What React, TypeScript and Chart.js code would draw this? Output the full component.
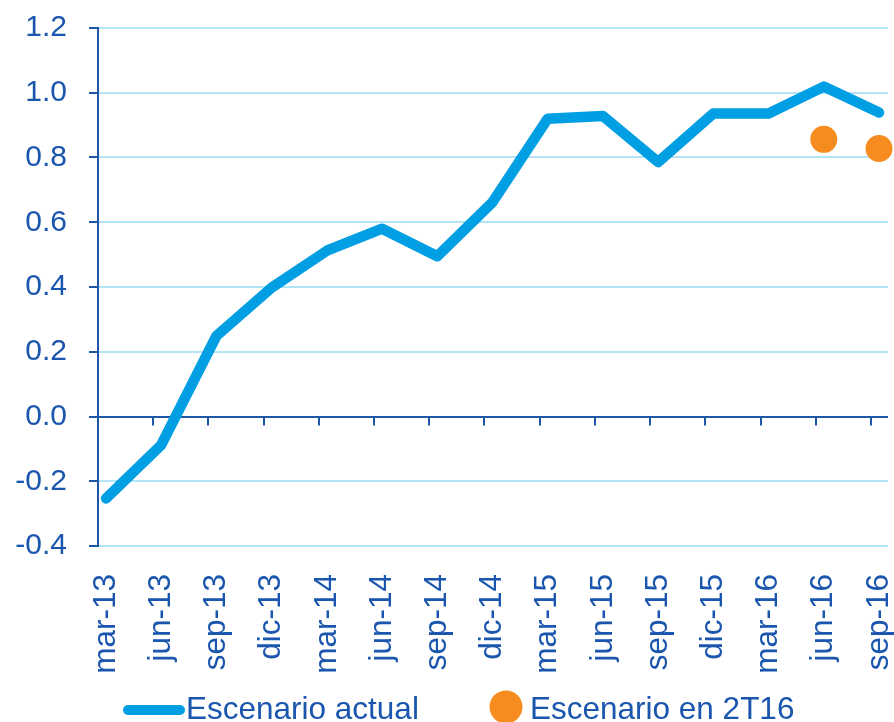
import React, { useEffect, useRef } from "react";
import { Chart, registerables } from "chart.js";

Chart.register(...registerables);

const categories: string[] = [
  "mar-13", "jun-13", "sep-13", "dic-13", "mar-14", "jun-14", "sep-14", "dic-14",
  "mar-15", "jun-15", "sep-15", "dic-15", "mar-16", "jun-16", "sep-16",
];
const escenarioActual: number[] = [
  -0.253, -0.088, 0.249, 0.398, 0.512, 0.58, 0.495, 0.662,
  0.92, 0.928, 0.786, 0.936, 0.936, 1.019, 0.939,
];
const escenario2T16: (number | null)[] = [
  null, null, null, null, null, null, null, null,
  null, null, null, null, null, 0.856, 0.828,
];
const yTicks: number[] = [-0.4, -0.2, 0, 0.2, 0.4, 0.6, 0.8, 1.0, 1.2];
const legendLabels: string[] = ["Escenario actual", "Escenario en 2T16"];

const BLUE_LINE = "#009FE3";
const ORANGE = "#F68B1F";
const TEXT = "#1A55AE";
const AXIS = "#1F56A8";
const GRID = "#B3E3F6";
const FONT = "'Liberation Sans', Arial, sans-serif";

export default function App() {
  const ref = useRef<HTMLCanvasElement | null>(null);

  useEffect(() => {
    if (!ref.current) return;

    const zeroLinePlugin = {
      id: "zeroLineTicks",
      afterDatasetsDraw(chart: any) {
        const { ctx, scales } = chart;
        const x = scales.x;
        const y = scales.y;
        const y0 = y.getPixelForValue(0);
        ctx.save();
        ctx.strokeStyle = AXIS;
        ctx.lineWidth = 2;
        for (let i = 0; i < categories.length; i++) {
          const px = Math.round(x.getPixelForValue(i - 0.145));
          ctx.beginPath();
          ctx.moveTo(px, y0);
          ctx.lineTo(px, y0 + 9);
          ctx.stroke();
        }
        ctx.restore();
      },
      afterDraw(chart: any) {
        const { ctx } = chart;
        ctx.save();
        ctx.strokeStyle = BLUE_LINE;
        ctx.lineWidth = 10;
        ctx.lineCap = "round";
        ctx.beginPath();
        ctx.moveTo(128, 710);
        ctx.lineTo(180, 710);
        ctx.stroke();
        ctx.font = `31.5px ${FONT}`;
        ctx.fillStyle = TEXT;
        ctx.textBaseline = "alphabetic";
        ctx.textAlign = "left";
        ctx.fillText(legendLabels[0], 186, 719);
        ctx.fillStyle = ORANGE;
        ctx.beginPath();
        ctx.arc(506, 707, 16.5, 0, Math.PI * 2);
        ctx.fill();
        ctx.fillStyle = TEXT;
        ctx.fillText(legendLabels[1], 530, 719);
        ctx.restore();
      },
    };

    const chart = new Chart(ref.current, {
      type: "line",
      data: {
        datasets: [
          {
            label: legendLabels[0],
            data: escenarioActual.map((v, i) => ({ x: i, y: v })),
            borderColor: BLUE_LINE,
            backgroundColor: BLUE_LINE,
            borderWidth: 10.5,
            borderJoinStyle: "round",
            borderCapStyle: "round",
            pointRadius: 0,
            tension: 0,
            clip: false as any,
          },
          {
            label: legendLabels[1],
            data: escenario2T16
              .map((v, i) => ({ x: i, y: v }))
              .filter((p) => p.y !== null) as any,
            showLine: false,
            borderWidth: 0,
            pointRadius: 13.5,
            pointBackgroundColor: ORANGE,
            pointBorderWidth: 0,
            backgroundColor: ORANGE,
            clip: false as any,
          },
        ],
      },
      options: {
        animation: false,
        responsive: false,
        maintainAspectRatio: false,
        layout: { autoPadding: false, padding: { top: 28, right: 6, bottom: 0, left: 0 } },
        plugins: {
          legend: { display: false },
          tooltip: { enabled: false },
        },
        scales: {
          x: {
            type: "linear",
            min: -0.145,
            max: 14.163,
            grid: { display: false },
            border: { display: false },
            afterBuildTicks: (scale: any) => {
              scale.ticks = categories.map((_, i) => ({ value: i }));
            },
            afterFit: (scale: any) => {
              scale.height = 176;
              scale.paddingLeft = 0;
              scale.paddingRight = 0;
              scale.paddingTop = 0;
              scale.paddingBottom = 0;
            },
            ticks: {
              autoSkip: false,
              maxRotation: 90,
              minRotation: 90,
              padding: 20,
              color: TEXT,
              font: { family: FONT, size: 31.5 },
              callback: (v: any) => categories[Math.round(Number(v))] ?? "",
            },
          },
          y: {
            min: -0.4,
            max: 1.2,
            afterBuildTicks: (scale: any) => {
              scale.ticks = yTicks.map((v) => ({ value: v }));
            },
            afterFit: (scale: any) => {
              scale.width = 98;
              scale.paddingLeft = 0;
              scale.paddingRight = 0;
              scale.paddingTop = 0;
              scale.paddingBottom = 0;
            },
            grid: {
              color: (c: any) =>
                c.tick && Math.abs(c.tick.value) < 1e-9 ? AXIS : GRID,
              lineWidth: 2,
              tickColor: AXIS,
              tickLength: 9,
              drawTicks: true,
            },
            border: { display: true, color: AXIS, width: 2 },
            ticks: {
              padding: 22,
              color: TEXT,
              font: { family: FONT, size: 30 },
              callback: (v: any) => Number(v).toFixed(1),
            },
          },
        },
      },
      plugins: [zeroLinePlugin],
    } as any);

    return () => chart.destroy();
  }, []);

  return (
    <div style={{ position: "absolute", left: 0, top: 0, width: 894, height: 722, background: "#fff" }}>
      <canvas ref={ref} width={894} height={722} style={{ width: 894, height: 722 }} />
    </div>
  );
}
